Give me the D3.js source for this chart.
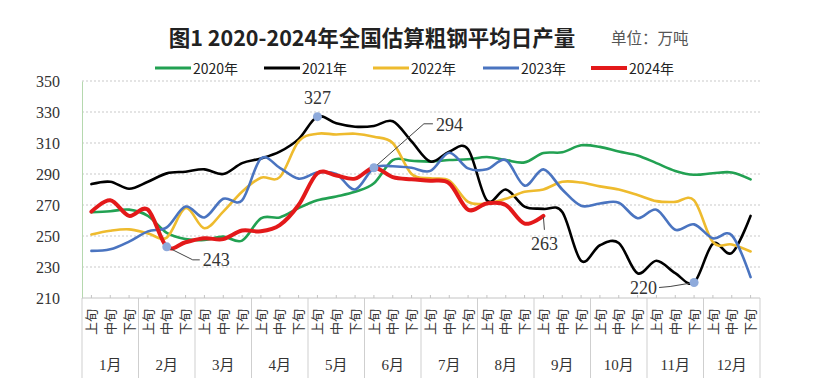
<!DOCTYPE html>
<html><head><meta charset="utf-8">
<script src="https://cdn.jsdelivr.net/npm/d3@7"></script>
<style>body{margin:0;background:#fff}svg{display:block}</style>
</head><body><svg id="c" width="824" height="390"></svg>
<script>
const years = ["2020年","2021年","2022年","2023年","2024年"];
const colors = ["#22a152","#000000","#eebb2e","#4a74c0","#e3191a"];
const dekads = ["上旬","中旬","下旬"];
const months = ["1月","2月","3月","4月","5月","6月","7月","8月","9月","10月","11月","12月"];
const yTicks = [210,230,250,270,290,310,330,350];
const s2020 = [265.3,266,267,263,252,248,247.4,249.6,247,261.4,262,268,273,275.5,278.5,284,299,298.5,298,299,299.5,301,299,297.5,303.5,304,308.5,307.5,304.5,302,297,292,289.5,290.5,291,286.5];
const s2021 = [283.5,285,280.5,285,290.4,291.5,293,290,297,300,304.4,312.5,327,322.7,320.5,321,324,311,298,304.4,306,273,280,269,267.5,265.5,234,244,245.5,226,234,226,220,245,239,263];
const s2022 = [251,253.4,254.3,251.7,249,268,255,265.7,278.6,287.6,288,311,316,315.5,316,314,310,290,287.2,285.7,272,271,274,278.5,280,285,284.5,282,280,276.5,272.5,272,273,246,244.5,240];
const s2023 = [240.4,241.4,246.4,253,255.6,269,262,274,273,300,294,287,291,290,280,294,295,294,292,303.7,293.6,293,299,282.5,293,280,269.5,271,271.5,261.5,267,254,257.5,248.5,250.5,223.5];
const s2024 = [265.7,273,263,267,243,246,248.5,248,253.5,253,257,270,290.5,289,287,294,288,286.6,285.7,284,267,271,270,258,263];
const series = [s2020,s2021,s2022,s2023,s2024];
// annotations: [series index, point index, label]
const notes = [[1,12,"327"],[4,4,"243"],[4,15,"294"],[4,24,"263"],[1,32,"220"]];

const svg = d3.select("#c");
const L=82, R=760, T=81, B=298;
const cats = d3.range(36);
const x = d3.scaleBand().domain(cats).range([L,R]).paddingInner(0).paddingOuter(0);
const xc = i => x(i) + x.bandwidth()/2;
const y = d3.scaleLinear().domain([210,350]).range([B,T]);
const serif = "'Liberation Serif','Noto Sans CJK SC',serif";
const cjk = "'Noto Sans CJK SC',sans-serif";

// title
svg.append("text").attr("x",372).attr("y",36).attr("text-anchor","middle").attr("dominant-baseline","central")
  .attr("font-family",cjk).attr("font-size",21.5).attr("font-weight","bold").attr("fill","#222")
  .text("图1 2020-2024年全国估算粗钢平均日产量");
svg.append("text").attr("x",611).attr("y",37).attr("dominant-baseline","central")
  .attr("font-family",cjk).attr("font-size",15.5).attr("fill","#555").text("单位：万吨");

// legend
const legX = [155,264,373,483,591];
years.forEach((yr,i)=>{
  const g = svg.append("g").attr("transform",`translate(${legX[i]},68)`);
  g.append("line").attr("x1",0).attr("x2",36).attr("stroke",colors[i]).attr("stroke-width",i===4?4:3);
  g.append("text").attr("x",38).attr("dominant-baseline","central").attr("font-family",cjk)
    .attr("font-size",14).attr("fill","#222").text(yr);
});

// gridlines
svg.append("g").selectAll("line").data(yTicks.filter(v=>v>210)).join("line")
  .attr("x1",L).attr("x2",R).attr("y1",d=>y(d)).attr("y2",d=>y(d))
  .attr("stroke","#c9c9c9").attr("stroke-width",1).attr("stroke-dasharray","2,2");

// y axis
const ya = svg.append("g").attr("transform",`translate(${L},0)`).call(d3.axisLeft(y).tickValues(yTicks).tickSize(0).tickPadding(22));
ya.select(".domain").attr("stroke","#b5d8ae");
ya.selectAll("text").attr("font-family",serif).attr("font-size",16).attr("fill","#333");

// x axis
const xa = svg.append("g").attr("transform",`translate(0,${B})`).call(d3.axisTop(x).tickSize(3).tickFormat(""));
xa.select(".domain").attr("stroke","#c4c4c4").attr("d",`M${L},0H${R}`);
xa.selectAll(".tick line").attr("stroke","#c4c4c4");
// month separators
svg.append("g").selectAll("line").data(d3.range(13)).join("line")
  .attr("x1",m=>m<12?x(m*3):R).attr("x2",m=>m<12?x(m*3):R).attr("y1",B).attr("y2",378)
  .attr("stroke","#cfcfcf").attr("stroke-width",1);
// dekad labels
svg.append("g").selectAll("text").data(cats).join("text")
  .attr("transform",i=>`translate(${xc(i)},335) rotate(-90)`)
  .attr("dy","0.36em").attr("font-family",cjk).attr("font-size",13).attr("fill","#333")
  .text(i=>dekads[i%3]);
// month labels
svg.append("g").selectAll("text").data(months).join("text")
  .attr("x",(m,i)=>x(i*3)+x.bandwidth()*1.5).attr("y",365).attr("text-anchor","middle").attr("dominant-baseline","central")
  .attr("font-family",serif).attr("font-size",15).attr("fill","#333").text(m=>m);

// lines
const line = d3.line().x((d,i)=>xc(i)).y(d=>y(d)).curve(d3.curveCatmullRom.alpha(0));
series.forEach((s,i)=>{
  svg.append("path").attr("d",line(s)).attr("fill","none").attr("stroke",colors[i])
    .attr("stroke-width",i===4?4:2.6).attr("stroke-linejoin","round").attr("stroke-linecap","round");
});

// annotations
const ann = svg.append("g");
notes.forEach(([si,pi,lab])=>{
  const px = xc(pi), py = y(series[si][pi]);
  const t = ann.append("text").attr("font-family",serif).attr("font-size",18).attr("fill","#333")
    .attr("dominant-baseline","central").text(lab);
  if(lab==="327"){ t.attr("x",px).attr("y",py-19).attr("text-anchor","middle"); }
  if(lab==="243"){ ann.append("polyline").attr("points",`${px},${py} ${px+26},${py+13} ${px+33},${py+13}`).attr("fill","none").attr("stroke","#444").attr("stroke-width",1);
    t.attr("x",px+36).attr("y",py+13); }
  if(lab==="294"){ ann.append("polyline").attr("points",`${px},${py} ${px+50},${py-44} ${px+59},${py-44}`).attr("fill","none").attr("stroke","#444").attr("stroke-width",1);
    t.attr("x",px+62).attr("y",py-43); }
  if(lab==="263"){ ann.append("line").attr("x1",px).attr("x2",px+1).attr("y1",py+1).attr("y2",py+14).attr("stroke","#444").attr("stroke-width",1);
    t.attr("x",px+1).attr("y",py+28).attr("text-anchor","middle"); }
  if(lab==="220"){ ann.append("polyline").attr("points",`${px},${py} ${px-24},${py+4} ${px-35},${py+5}`).attr("fill","none").attr("stroke","#444").attr("stroke-width",1);
    t.attr("x",px-37).attr("y",py+5).attr("text-anchor","end"); }
  if(lab!=="263"){ ann.append("circle").attr("cx",px).attr("cy",py).attr("r",4.5).attr("fill","#8eaadb"); }
});
</script></body></html>
